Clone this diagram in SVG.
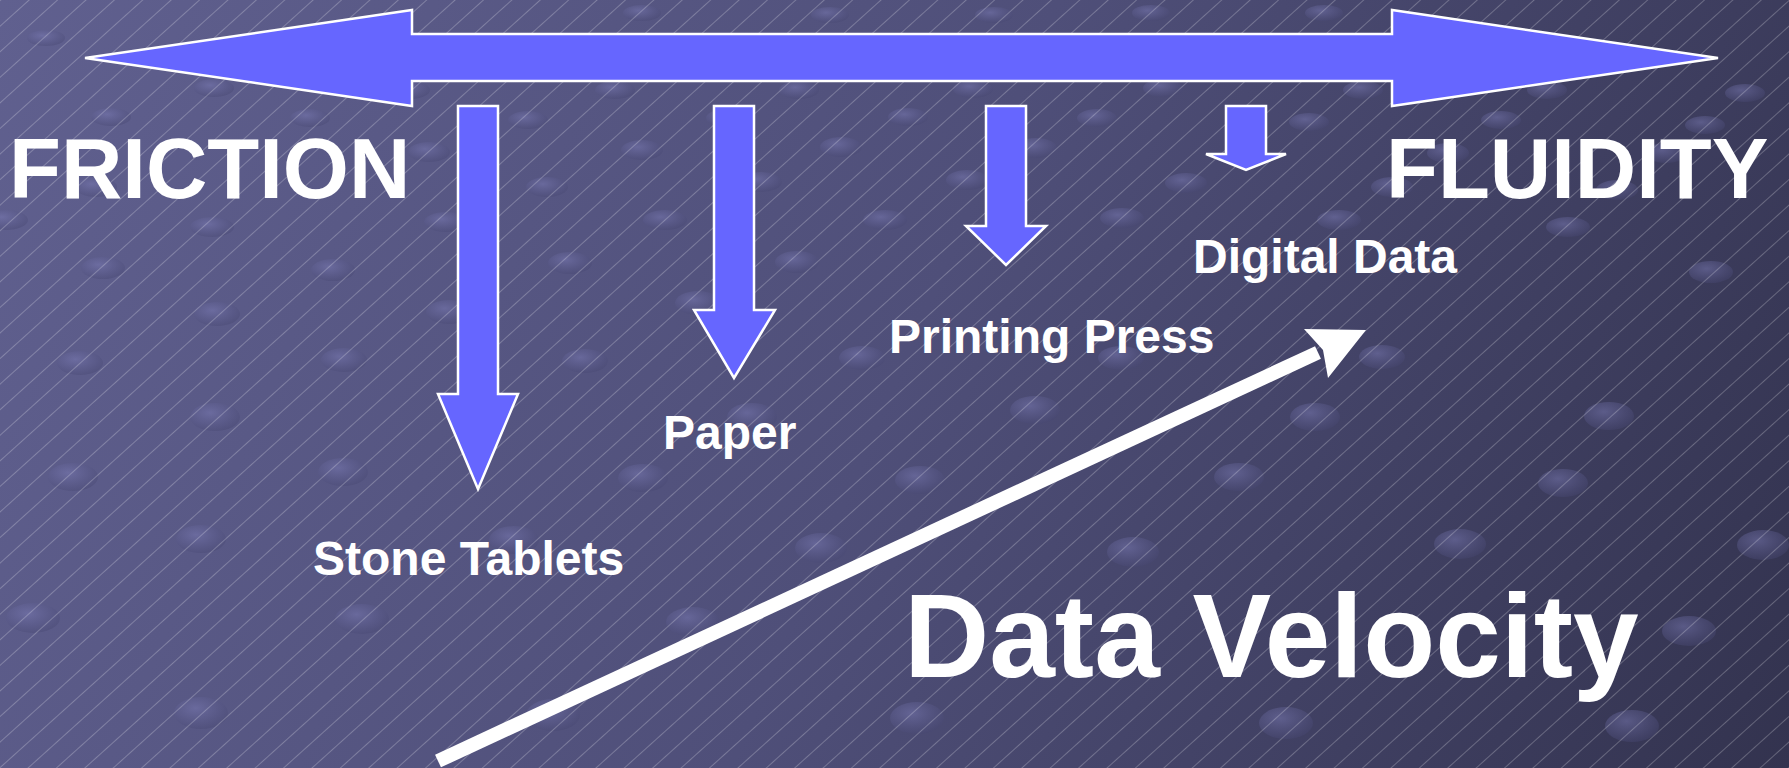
<svg xmlns="http://www.w3.org/2000/svg" width="1789" height="768" viewBox="0 0 1789 768">
  <defs>
    <linearGradient id="bg" gradientUnits="userSpaceOnUse" x1="0" y1="0" x2="1789" y2="768">
      <stop offset="0" stop-color="#60608f"/>
      <stop offset="0.5" stop-color="#4f4f79"/>
      <stop offset="1" stop-color="#33334f"/>
    </linearGradient>
    <pattern id="hatch" width="19" height="60" patternUnits="userSpaceOnUse" patternTransform="rotate(48)">
      <line x1="0.5" y1="0" x2="0.5" y2="60" stroke="#ffffff" stroke-width="1" stroke-opacity="0.24"/>
    </pattern>
    <radialGradient id="dot" cx="0.4" cy="0.35" r="0.7">
      <stop offset="0" stop-color="#7c7cb6" stop-opacity="0.5"/>
      <stop offset="1" stop-color="#45456f" stop-opacity="0.4"/>
    </radialGradient>
    <style>
      .arrow { fill: #6666ff; stroke: #ffffff; stroke-width: 2.5; stroke-linejoin: miter; }
      .lbl { fill: #ffffff; font-family: "Liberation Sans", Arial, sans-serif; font-weight: bold; }
      .big { font-size: 85px; }
      .small { font-size: 48px; }
      .title { font-size: 118px; }
      .d1 { fill: url(#dot); }
    </style>
  </defs>

  <!-- background: gradient, fine diagonal hatching and a faint grid of discs -->
  <g id="background">
    <rect width="1789" height="768" fill="url(#bg)"/>
    <g id="grid-dots" class="d1">
      <ellipse cx="46" cy="38" rx="19" ry="8"/>
      <ellipse cx="642" cy="13" rx="19" ry="8"/>
      <ellipse cx="830" cy="15" rx="19" ry="8"/>
      <ellipse cx="994" cy="15" rx="19" ry="8"/>
      <ellipse cx="1151" cy="13" rx="19" ry="8"/>
      <ellipse cx="1324" cy="13" rx="19" ry="8"/>
      <ellipse cx="214" cy="88" rx="20" ry="9"/>
      <ellipse cx="410" cy="90" rx="20" ry="9"/>
      <ellipse cx="615" cy="90" rx="20" ry="9"/>
      <ellipse cx="799" cy="90" rx="20" ry="9"/>
      <ellipse cx="973" cy="89" rx="20" ry="9"/>
      <ellipse cx="1163" cy="88" rx="20" ry="9"/>
      <ellipse cx="1363" cy="90" rx="20" ry="9"/>
      <ellipse cx="1547" cy="90" rx="20" ry="9"/>
      <ellipse cx="1745" cy="93" rx="20" ry="9"/>
      <ellipse cx="111" cy="117" rx="20" ry="9"/>
      <ellipse cx="310" cy="118" rx="20" ry="9"/>
      <ellipse cx="528" cy="120" rx="20" ry="9"/>
      <ellipse cx="726" cy="118" rx="20" ry="9"/>
      <ellipse cx="908" cy="117" rx="20" ry="9"/>
      <ellipse cx="1097" cy="118" rx="20" ry="9"/>
      <ellipse cx="1309" cy="122" rx="20" ry="9"/>
      <ellipse cx="1501" cy="120" rx="20" ry="9"/>
      <ellipse cx="1705" cy="125" rx="20" ry="9"/>
      <ellipse cx="429" cy="152" rx="21" ry="10"/>
      <ellipse cx="642" cy="150" rx="21" ry="10"/>
      <ellipse cx="841" cy="147" rx="21" ry="10"/>
      <ellipse cx="1036" cy="148" rx="21" ry="10"/>
      <ellipse cx="1448" cy="153" rx="21" ry="10"/>
      <ellipse cx="1666" cy="153" rx="21" ry="10"/>
      <ellipse cx="96" cy="187" rx="21" ry="10"/>
      <ellipse cx="547" cy="187" rx="21" ry="10"/>
      <ellipse cx="761" cy="182" rx="21" ry="10"/>
      <ellipse cx="967" cy="180" rx="21" ry="10"/>
      <ellipse cx="1186" cy="183" rx="21" ry="10"/>
      <ellipse cx="1392" cy="187" rx="21" ry="10"/>
      <ellipse cx="1617" cy="190" rx="21" ry="10"/>
      <ellipse cx="6" cy="220" rx="22" ry="10"/>
      <ellipse cx="212" cy="227" rx="22" ry="10"/>
      <ellipse cx="446" cy="222" rx="22" ry="10"/>
      <ellipse cx="665" cy="220" rx="22" ry="10"/>
      <ellipse cx="885" cy="220" rx="22" ry="10"/>
      <ellipse cx="1122" cy="218" rx="22" ry="10"/>
      <ellipse cx="1339" cy="220" rx="22" ry="10"/>
      <ellipse cx="1568" cy="227" rx="22" ry="10"/>
      <ellipse cx="103" cy="268" rx="22" ry="11"/>
      <ellipse cx="333" cy="270" rx="22" ry="11"/>
      <ellipse cx="570" cy="263" rx="22" ry="11"/>
      <ellipse cx="797" cy="262" rx="22" ry="11"/>
      <ellipse cx="1711" cy="272" rx="22" ry="11"/>
      <ellipse cx="217" cy="314" rx="23" ry="12"/>
      <ellipse cx="449" cy="312" rx="23" ry="12"/>
      <ellipse cx="698" cy="303" rx="23" ry="12"/>
      <ellipse cx="80" cy="363" rx="23" ry="12"/>
      <ellipse cx="344" cy="360" rx="23" ry="12"/>
      <ellipse cx="585" cy="361" rx="23" ry="12"/>
      <ellipse cx="862" cy="358" rx="23" ry="12"/>
      <ellipse cx="1121" cy="358" rx="23" ry="12"/>
      <ellipse cx="1382" cy="357" rx="23" ry="12"/>
      <ellipse cx="215" cy="417" rx="25" ry="14"/>
      <ellipse cx="752" cy="417" rx="25" ry="14"/>
      <ellipse cx="1035" cy="410" rx="25" ry="14"/>
      <ellipse cx="1315" cy="417" rx="25" ry="14"/>
      <ellipse cx="1609" cy="416" rx="25" ry="14"/>
      <ellipse cx="73" cy="477" rx="25" ry="14"/>
      <ellipse cx="343" cy="472" rx="25" ry="14"/>
      <ellipse cx="643" cy="478" rx="25" ry="14"/>
      <ellipse cx="920" cy="480" rx="25" ry="14"/>
      <ellipse cx="1239" cy="477" rx="25" ry="14"/>
      <ellipse cx="1563" cy="483" rx="25" ry="14"/>
      <ellipse cx="201" cy="539" rx="25" ry="14"/>
      <ellipse cx="514" cy="540" rx="25" ry="14"/>
      <ellipse cx="821" cy="548" rx="26" ry="15"/>
      <ellipse cx="1133" cy="552" rx="26" ry="15"/>
      <ellipse cx="1460" cy="544" rx="26" ry="15"/>
      <ellipse cx="1763" cy="545" rx="26" ry="15"/>
      <ellipse cx="33" cy="618" rx="27" ry="15"/>
      <ellipse cx="362" cy="619" rx="27" ry="15"/>
      <ellipse cx="693" cy="622" rx="27" ry="15"/>
      <ellipse cx="1689" cy="631" rx="27" ry="15"/>
      <ellipse cx="201" cy="713" rx="27" ry="16"/>
      <ellipse cx="553" cy="715" rx="27" ry="16"/>
      <ellipse cx="917" cy="718" rx="27" ry="16"/>
      <ellipse cx="1286" cy="723" rx="27" ry="16"/>
      <ellipse cx="1632" cy="726" rx="27" ry="16"/>
    </g>
    <rect width="1789" height="768" fill="url(#hatch)"/>
  </g>

  <!-- arrows -->
  <g id="connectors">
    <polygon id="axis" class="arrow" points="85,58 412,10 412,34 1392,34 1392,10 1718,58 1392,106 1392,81 412,81 412,106"/>
    <polygon id="drop-stone" class="arrow" points="458,106 498,106 498,394 518,394 478,489 438,394 458,394"/>
    <polygon id="drop-paper" class="arrow" points="714,106 754,106 754,310 775,310 734,378 694,310 714,310"/>
    <polygon id="drop-press" class="arrow" points="986,106 1026,106 1026,226 1046,226 1006,265 966,226 986,226"/>
    <polygon id="drop-digital" class="arrow" points="1226,106 1266,106 1266,154 1286,154 1246,170 1206,154 1226,154"/>
    <g id="velocity-arrow" fill="#ffffff">
      <line x1="438" y1="761" x2="1318" y2="352.5" stroke="#ffffff" stroke-width="14"/>
      <polygon points="1366,330 1304,329 1323,350 1328,378"/>
    </g>
  </g>

  <g id="friction"><text class="lbl big" x="9" y="198">FRICTION</text></g>
  <g id="fluidity"><text class="lbl big" x="1386" y="198">FLUIDITY</text></g>
  <g id="digital-data"><text class="lbl small" x="1193" y="273">Digital Data</text></g>
  <g id="printing-press"><text class="lbl small" x="889" y="353">Printing Press</text></g>
  <g id="paper"><text class="lbl small" x="663" y="449">Paper</text></g>
  <g id="stone-tablets"><text class="lbl small" x="313" y="575">Stone Tablets</text></g>
  <g id="data-velocity"><text class="lbl title" x="904" y="677">Data Velocity</text></g>
</svg>
